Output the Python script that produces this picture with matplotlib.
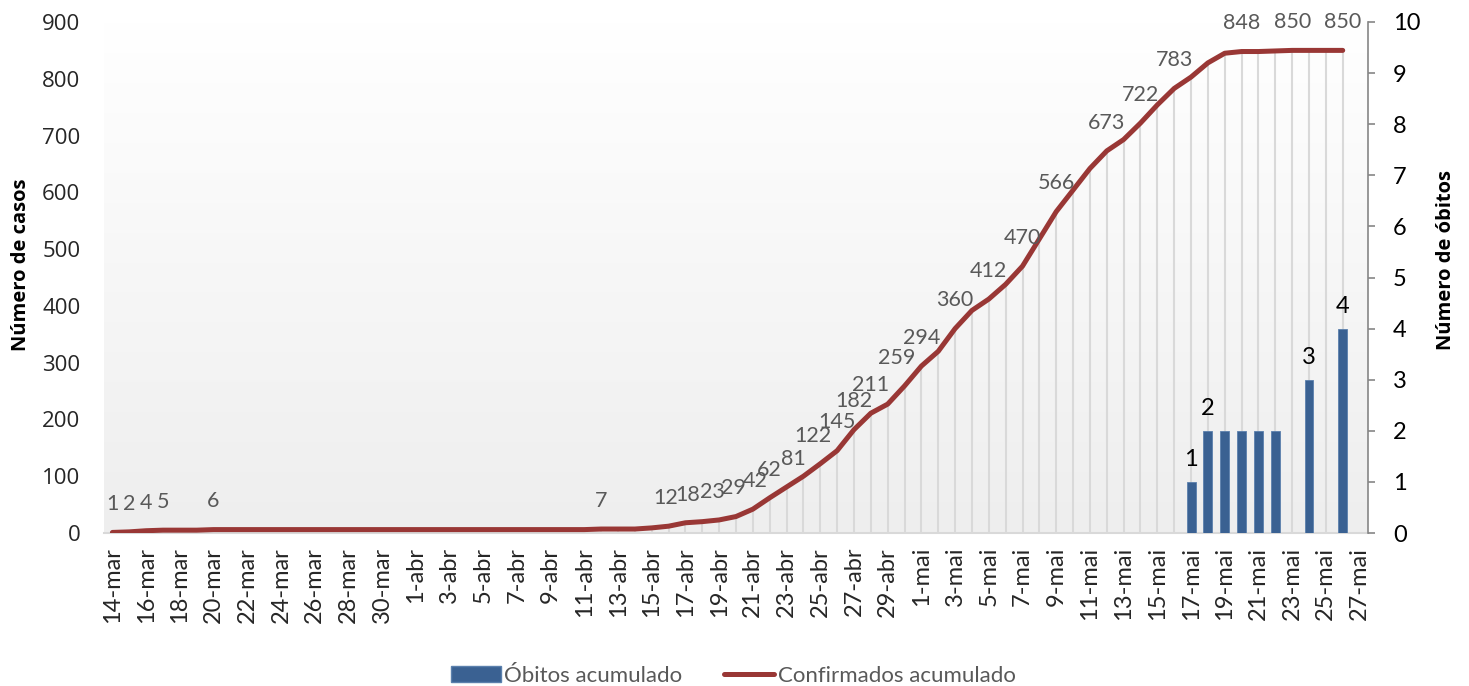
import numpy as np
import matplotlib
matplotlib.use("Agg")
import matplotlib.pyplot as plt
from matplotlib.colors import LinearSegmentedColormap
from matplotlib.patches import Patch
from matplotlib.lines import Line2D

plt.rcParams['font.family'] = ['Lato', 'DejaVu Sans']

# categorias: um dia por ponto, de 14-mar a 27-mai
datas = ([f"{d}-mar" for d in range(14, 32)] +
         [f"{d}-abr" for d in range(1, 31)] +
         [f"{d}-mai" for d in range(1, 28)])

# casos confirmados acumulados
confirmados = [1, 2, 4, 5, 5, 5, 6, 6, 6, 6, 6, 6, 6, 6, 6, 6, 6, 6,          # mar
               6, 6, 6, 6, 6, 6, 6, 6, 6, 6, 6, 7, 7, 7, 9, 12, 18, 20, 23, 29,
               42, 62, 81, 100, 122, 145, 182, 211, 227, 259,                 # abr
               294, 320, 360, 392, 412, 438, 470, 518, 566, 604, 642, 673, 693,
               722, 754, 783, 803, 828, 845, 848, 848, 849, 850, 850, 850, 850,
               np.nan]                                                        # mai

# obitos acumulados (dias sem registo ficam vazios)
obitos = [np.nan] * 64 + [1, 2, 2, 2, 2, 2, np.nan, 3, np.nan, 4, np.nan]

# dias em que aparece o rotulo de dados
rotulos_conf = [0, 1, 2, 3, 6, 29, 33, 34, 36, 37, 38, 39, 40, 42, 43, 44, 45,
                47, 48, 50, 52, 54, 56, 59, 61, 63, 67, 70, 73]
rotulos_obitos = [64, 65, 71, 73]

# pequenos desvios horizontais dos rotulos (pt), como no original
desvio = {33: -2, 34: 1.5, 36: -5, 37: -2, 38: 2, 40: 5, 42: -5, 47: -6}

cor_linha = '#993735'
cor_barra = '#3a6192'

x = np.arange(len(datas))
conf = np.array(confirmados, dtype=float)
obi = np.array(obitos, dtype=float)

fig = plt.figure(figsize=(14.69, 6.86), dpi=100)
ax = fig.add_axes([104 / 1469, 153 / 686, 1264 / 1469, 511 / 686])

# fundo em degrade
grad = np.linspace(0, 1, 256).reshape(-1, 1)
cmap = LinearSegmentedColormap.from_list('fundo', ['#eeeeee', '#ffffff'])
ax.imshow(grad, extent=[0, 1, 0, 1], transform=ax.transAxes, aspect='auto',
          cmap=cmap, origin='lower', zorder=0)

ok = ~np.isnan(conf)
ax.vlines(x[ok], 0, conf[ok], color='#d9d9d9', lw=1.5, zorder=1)
ax.plot(x, conf, color=cor_linha, lw=3.6, solid_capstyle='round', zorder=3)

for i in rotulos_conf:
    ax.annotate(f"{int(conf[i])}", (x[i], conf[i]), xytext=(desvio.get(i, 0), 16),
                textcoords='offset points', ha='center', va='baseline',
                fontsize=15.5, color='#595959', zorder=4)

ax.set_xlim(-0.5, len(datas) - 0.5)
ax.set_ylim(0, 900)
ax.set_yticks(range(0, 901, 100))
ax.set_xticks(x[::2])
ax.set_xticklabels(datas[::2], rotation=90)
ax.tick_params(axis='x', length=0, pad=10, labelsize=17, labelcolor='#262626')
ax.tick_params(axis='y', length=0, pad=17, labelsize=16, labelcolor='#262626')
for t in ax.get_yticklabels():
    t.set_family(['Open Sans', 'DejaVu Sans'])
for s in ['left', 'top', 'right']:
    ax.spines[s].set_visible(False)
ax.spines['bottom'].set_color('#d9d9d9')
ax.spines['bottom'].set_linewidth(1.5)
ax.set_ylabel('Número de casos', fontsize=14.5, fontweight='bold',
              family=['Open Sans', 'DejaVu Sans'])
ax.yaxis.set_label_coords(-0.058, 0.525)

# eixo secundario com os obitos
ax2 = ax.twinx()
ax2.bar(x, obi, width=0.53, color=cor_barra, edgecolor='#5b80ad', lw=0.6, zorder=2)
for i in rotulos_obitos:
    ax2.annotate(f"{int(obi[i])}", (x[i], obi[i]), xytext=(0, 11.5),
                 textcoords='offset points', ha='center', va='baseline',
                 fontsize=17, color='black')
ax2.set_ylim(0, 10)
ax2.set_yticks(range(0, 11))
ax2.tick_params(axis='y', length=5, width=1.2, color='#868686', pad=13,
                labelsize=17, labelcolor='black')
for s in ['left', 'top', 'bottom']:
    ax2.spines[s].set_visible(False)
ax2.spines['right'].set_color('#868686')
ax2.spines['right'].set_linewidth(1.2)
ax2.set_ylabel('Número de óbitos', fontsize=14.5, fontweight='bold',
               family=['Open Sans', 'DejaVu Sans'])
ax2.yaxis.set_label_coords(1.054, 0.534)

handles = [Patch(facecolor=cor_barra, edgecolor='#5b80ad'),
           Line2D([], [], color=cor_linha, lw=3.6, solid_capstyle='round')]
leg = fig.legend(handles, ['Óbitos acumulado', 'Confirmados acumulado'],
                 loc='center', bbox_to_anchor=(0.499, 0.0146), ncol=2,
                 frameon=False, fontsize=16, handlelength=2.25,
                 handletextpad=0.15, columnspacing=1.9)
for t in leg.get_texts():
    t.set_color('#595959')

fig.savefig('out.png', dpi=100)
